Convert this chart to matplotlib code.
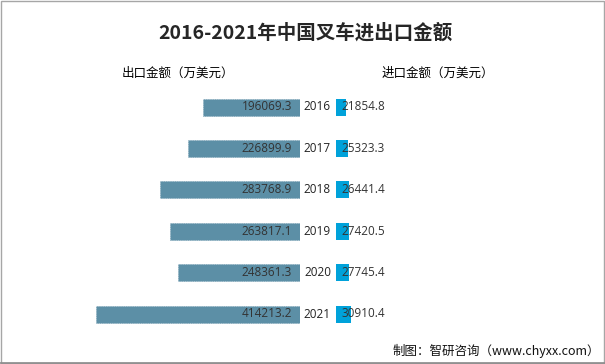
import matplotlib
matplotlib.use("Agg")
import matplotlib.pyplot as plt
from matplotlib.patches import Rectangle

years = ["2016", "2017", "2018", "2019", "2020", "2021"]
export_vals = [196069.3, 226899.9, 283768.9, 263817.1, 248361.3, 414213.2]
import_vals = [21854.8, 25323.3, 26441.4, 27420.5, 27745.4, 30910.4]

title = "2016-2021年中国叉车进出口金额"
left_header = "出口金额（万美元）"
right_header = "进口金额（万美元）"
source = "制图：智研咨询（www.chyxx.com）"

W, H = 605, 364
fig = plt.figure(figsize=(W / 100, H / 100), dpi=100)
fig.patch.set_facecolor("white")

cjk = ["Noto Sans CJK SC", "DejaVu Sans"]
numfont = ["Open Sans", "DejaVu Sans"]

units_per_px = 2030.0
row_px = 41.4
top_center = 107
n = len(years)
ax_top = top_center - row_px / 2
ax_h = row_px * n

def fy(px):
    return 1 - px / H

# left axes (export), right edge at x=300
lx1 = 300
axL = fig.add_axes([0, fy(ax_top + ax_h), lx1 / W, ax_h / H])
axL.set_xlim(lx1 * units_per_px, 0)
axL.set_ylim(n - 0.5, -0.5)
axL.axis("off")
# right axes (import), left edge at x=335.5
rx0 = 335.5
axR = fig.add_axes([rx0 / W, fy(ax_top + ax_h), (W - rx0) / W, ax_h / H])
axR.set_xlim(0, (W - rx0) * units_per_px)
axR.set_ylim(n - 0.5, -0.5)
axR.axis("off")

ypos = list(range(n))
bh = 17 / row_px
axL.barh(ypos, export_vals, height=bh, color="#5C8FA6", edgecolor="#6F9BB0",
         linewidth=0.4, linestyle=(0, (2, 2)))
axR.barh(ypos, import_vals, height=bh, color="#00A2DA", edgecolor="none")

for i in range(n):
    axL.text(8 * units_per_px, i, f"{export_vals[i]:.1f}", ha="right", va="center",
             fontsize=8.5, color="#333333", family=numfont)
    axR.text(6 * units_per_px, i, f"{import_vals[i]:.1f}", ha="left", va="center",
             fontsize=8.5, color="#333333", family=numfont)
    fig.text(317.5 / W, fy(top_center + i * row_px), years[i], ha="center", va="center",
             fontsize=8.5, color="#222222", family=numfont)

fig.text(305 / W, fy(33), title, ha="center", va="center", fontsize=14,
         fontweight="bold", color="#262626", family=cjk)
fig.text(178 / W, fy(73), left_header, ha="center", va="center", fontsize=9,
         color="#000000", family=cjk)
fig.text(438 / W, fy(73), right_header, ha="center", va="center", fontsize=9,
         color="#000000", family=cjk)
fig.text(600 / W, fy(351), source, ha="right", va="center", fontsize=9,
         color="#111111", family=cjk)

# frame around the figure
fig.add_artist(Rectangle((0.5 / W, 1.5 / H), (W - 1.5) / W, (H - 2) / H,
                         transform=fig.transFigure, fill=False,
                         edgecolor="#A6A6A6", linewidth=1.0))
fig.add_artist(plt.Line2D([0, 1], [1.5 / H, 1.5 / H], transform=fig.transFigure,
                          color="#8C8C8C", linewidth=1.2))

fig.savefig("out.png", dpi=100, facecolor="white")
